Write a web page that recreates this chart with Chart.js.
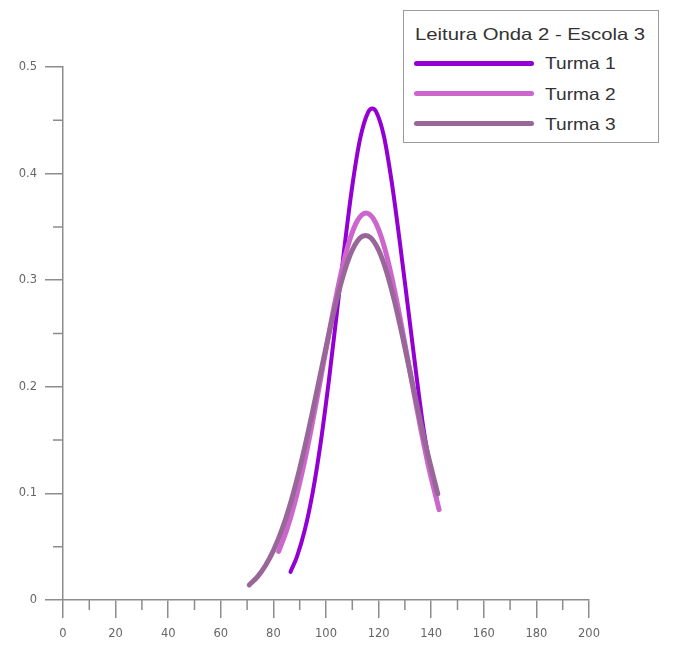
<!DOCTYPE html>
<html>
<head>
<meta charset="utf-8">
<script src="https://cdn.jsdelivr.net/npm/chart.js@4.4.1/dist/chart.umd.min.js"></script>
<style>
  html, body { margin: 0; padding: 0; background: #fff; }
  #wrap { position: relative; width: 673px; height: 648px; overflow: hidden; }
  #c { position: absolute; left: 0; top: 0; }
  #legend { position: absolute; left: 403px; top: 10px; width: 256px; height: 133px;
    box-sizing: border-box; border: 1px solid #9a9a9a; background: #fff;
    font-family: "Liberation Sans", Arial, sans-serif; color: #333; }
  #legend .title { position: absolute; left: 11px; top: 13px; font-size: 16.5px; line-height: 20px;
    white-space: nowrap; transform: scaleX(1.23); transform-origin: left center; }
  #legend .swatch { position: absolute; left: 10px; width: 120px; height: 5px; border-radius: 3px; }
  #legend .lab { position: absolute; left: 141px; font-size: 16.5px; line-height: 20px;
    white-space: nowrap; transform: scaleX(1.16); transform-origin: left center; }
</style>
</head>
<body>
<div id="wrap">
  <canvas id="c" width="673" height="648"></canvas>
  <div id="legend"></div>
</div>
<script>
// ---- data ----
const legendTitle = 'Leitura Onda 2 - Escola 3';
const seriesNames = ['Turma 1', 'Turma 2', 'Turma 3'];
const seriesColors = ['#9400d3', '#cc66cc', '#996699'];

const turma1X = [86.5, 89, 92, 95, 98, 101, 104, 107, 110, 113, 116, 117.6, 119, 122, 125, 128, 131, 134, 137, 140, 142.3];
const turma1Y = [0.0264, 0.0410, 0.0663, 0.1017, 0.1479, 0.2040, 0.2667, 0.3306, 0.3885, 0.4330, 0.4575, 0.4610, 0.4583, 0.4353, 0.3920, 0.3370, 0.2780, 0.2180, 0.1620, 0.1200, 0.0920];

const turma2X = [82, 85, 88, 91, 94, 97, 100, 103, 106, 109, 112, 115.2, 118, 121, 124, 127, 130, 133, 136, 139, 143];
const turma2Y = [0.0456, 0.0652, 0.0902, 0.1206, 0.1558, 0.1946, 0.2350, 0.2744, 0.3096, 0.3377, 0.3561, 0.3630, 0.3577, 0.3407, 0.3138, 0.2793, 0.2404, 0.2000, 0.1608, 0.1250, 0.0848];

const turma3X = [70.8, 74, 77, 80, 83, 86, 89, 92, 95, 98, 101, 104, 107, 110, 113, 115, 117, 120, 123, 126, 129, 132, 135, 138, 142.5];
const turma3Y = [0.0141, 0.0220, 0.0324, 0.0463, 0.0643, 0.0866, 0.1134, 0.1442, 0.1780, 0.2134, 0.2483, 0.2807, 0.3081, 0.3283, 0.3398, 0.3420, 0.3398, 0.3283, 0.3081, 0.2807, 0.2483, 0.2134, 0.1780, 0.1442, 0.0995];

const xTickLabels = ['0', '20', '40', '60', '80', '100', '120', '140', '160', '180', '200'];
const yTickLabels = ['0', '0.1', '0.2', '0.3', '0.4', '0.5'];
const xMinorTicks = [10, 30, 50, 70, 90, 110, 130, 150, 170, 190];
const yMinorTicks = [0.05, 0.15, 0.25, 0.35, 0.45];

// ---- build ----
const toPts = (xs, ys) => xs.map((x, i) => ({ x: x, y: ys[i] }));
const seriesX = [turma1X, turma2X, turma3X];
const seriesY = [turma1Y, turma2Y, turma3Y];
const widths = [4, 5, 5];
const drawOrder = [3, 2, 1];

const datasets = seriesNames.map((n, i) => ({
  label: n,
  data: toPts(seriesX[i], seriesY[i]),
  borderColor: seriesColors[i],
  backgroundColor: seriesColors[i],
  borderWidth: widths[i],
  order: drawOrder[i],
  fill: false
}));

const axisColor = '#8c8c8c';

const minorTicksPlugin = {
  id: 'minorTicks',
  afterDraw(chart) {
    const ctx = chart.ctx;
    const x = chart.scales.x, y = chart.scales.y;
    ctx.save();
    ctx.strokeStyle = axisColor;
    ctx.lineWidth = 1.5;
    ctx.beginPath();
    xMinorTicks.forEach(v => {
      const px = x.getPixelForValue(v);
      ctx.moveTo(px, x.top);
      ctx.lineTo(px, x.top + 10);
    });
    yMinorTicks.forEach(v => {
      const py = y.getPixelForValue(v);
      ctx.moveTo(y.right, py);
      ctx.lineTo(y.right - 10, py);
    });
    ctx.stroke();
    ctx.restore();
  }
};

const tickFont = { family: 'DejaVu Sans', size: 11.5 };

new Chart(document.getElementById('c'), {
  type: 'line',
  data: { datasets: datasets },
  plugins: [minorTicksPlugin],
  options: {
    responsive: false,
    animation: false,
    devicePixelRatio: 1,
    layout: { padding: { left: 0, right: 84, top: 67, bottom: 0 } },
    plugins: { legend: { display: false }, tooltip: { enabled: false } },
    elements: {
      point: { radius: 0, hoverRadius: 0 },
      line: { tension: 0.4, cubicInterpolationMode: 'monotone', borderCapStyle: 'round', borderJoinStyle: 'round' }
    },
    scales: {
      x: {
        type: 'linear', min: 0, max: 200,
        ticks: { stepSize: 20, autoSkip: false, maxRotation: 0, color: '#666', font: tickFont, padding: 9,
          callback: (v) => { const i = Math.round(v / 20); return xTickLabels[i] !== undefined ? xTickLabels[i] : ''; } },
        grid: { display: true, drawOnChartArea: false, drawTicks: true, tickLength: 18, color: axisColor, lineWidth: 1.5 },
        border: { display: true, color: axisColor, width: 1.5 },
        afterFit(s) { s.height = 48; }
      },
      y: {
        type: 'linear', min: 0, max: 0.5,
        ticks: { stepSize: 0.1, autoSkip: false, color: '#666', font: tickFont, padding: 8,
          callback: (v) => { const i = Math.round(v * 10); return yTickLabels[i] !== undefined ? yTickLabels[i] : ''; } },
        grid: { display: true, drawOnChartArea: false, drawTicks: true, tickLength: 18, color: axisColor, lineWidth: 1.5 },
        border: { display: true, color: axisColor, width: 1.5 },
        afterFit(s) { s.width = 63; }
      }
    }
  }
});

// ---- legend (HTML) ----
const lg = document.getElementById('legend');
const t = document.createElement('div');
t.className = 'title'; t.textContent = legendTitle; lg.appendChild(t);
const rowCenters = [52, 82.5, 112.5];
seriesNames.forEach((n, i) => {
  const sw = document.createElement('div');
  sw.className = 'swatch';
  sw.style.top = (rowCenters[i] - 2.5) + 'px';
  sw.style.background = seriesColors[i];
  lg.appendChild(sw);
  const lb = document.createElement('div');
  lb.className = 'lab';
  lb.style.top = (rowCenters[i] - 10) + 'px';
  lb.textContent = n;
  lg.appendChild(lb);
});
</script>
</body>
</html>
